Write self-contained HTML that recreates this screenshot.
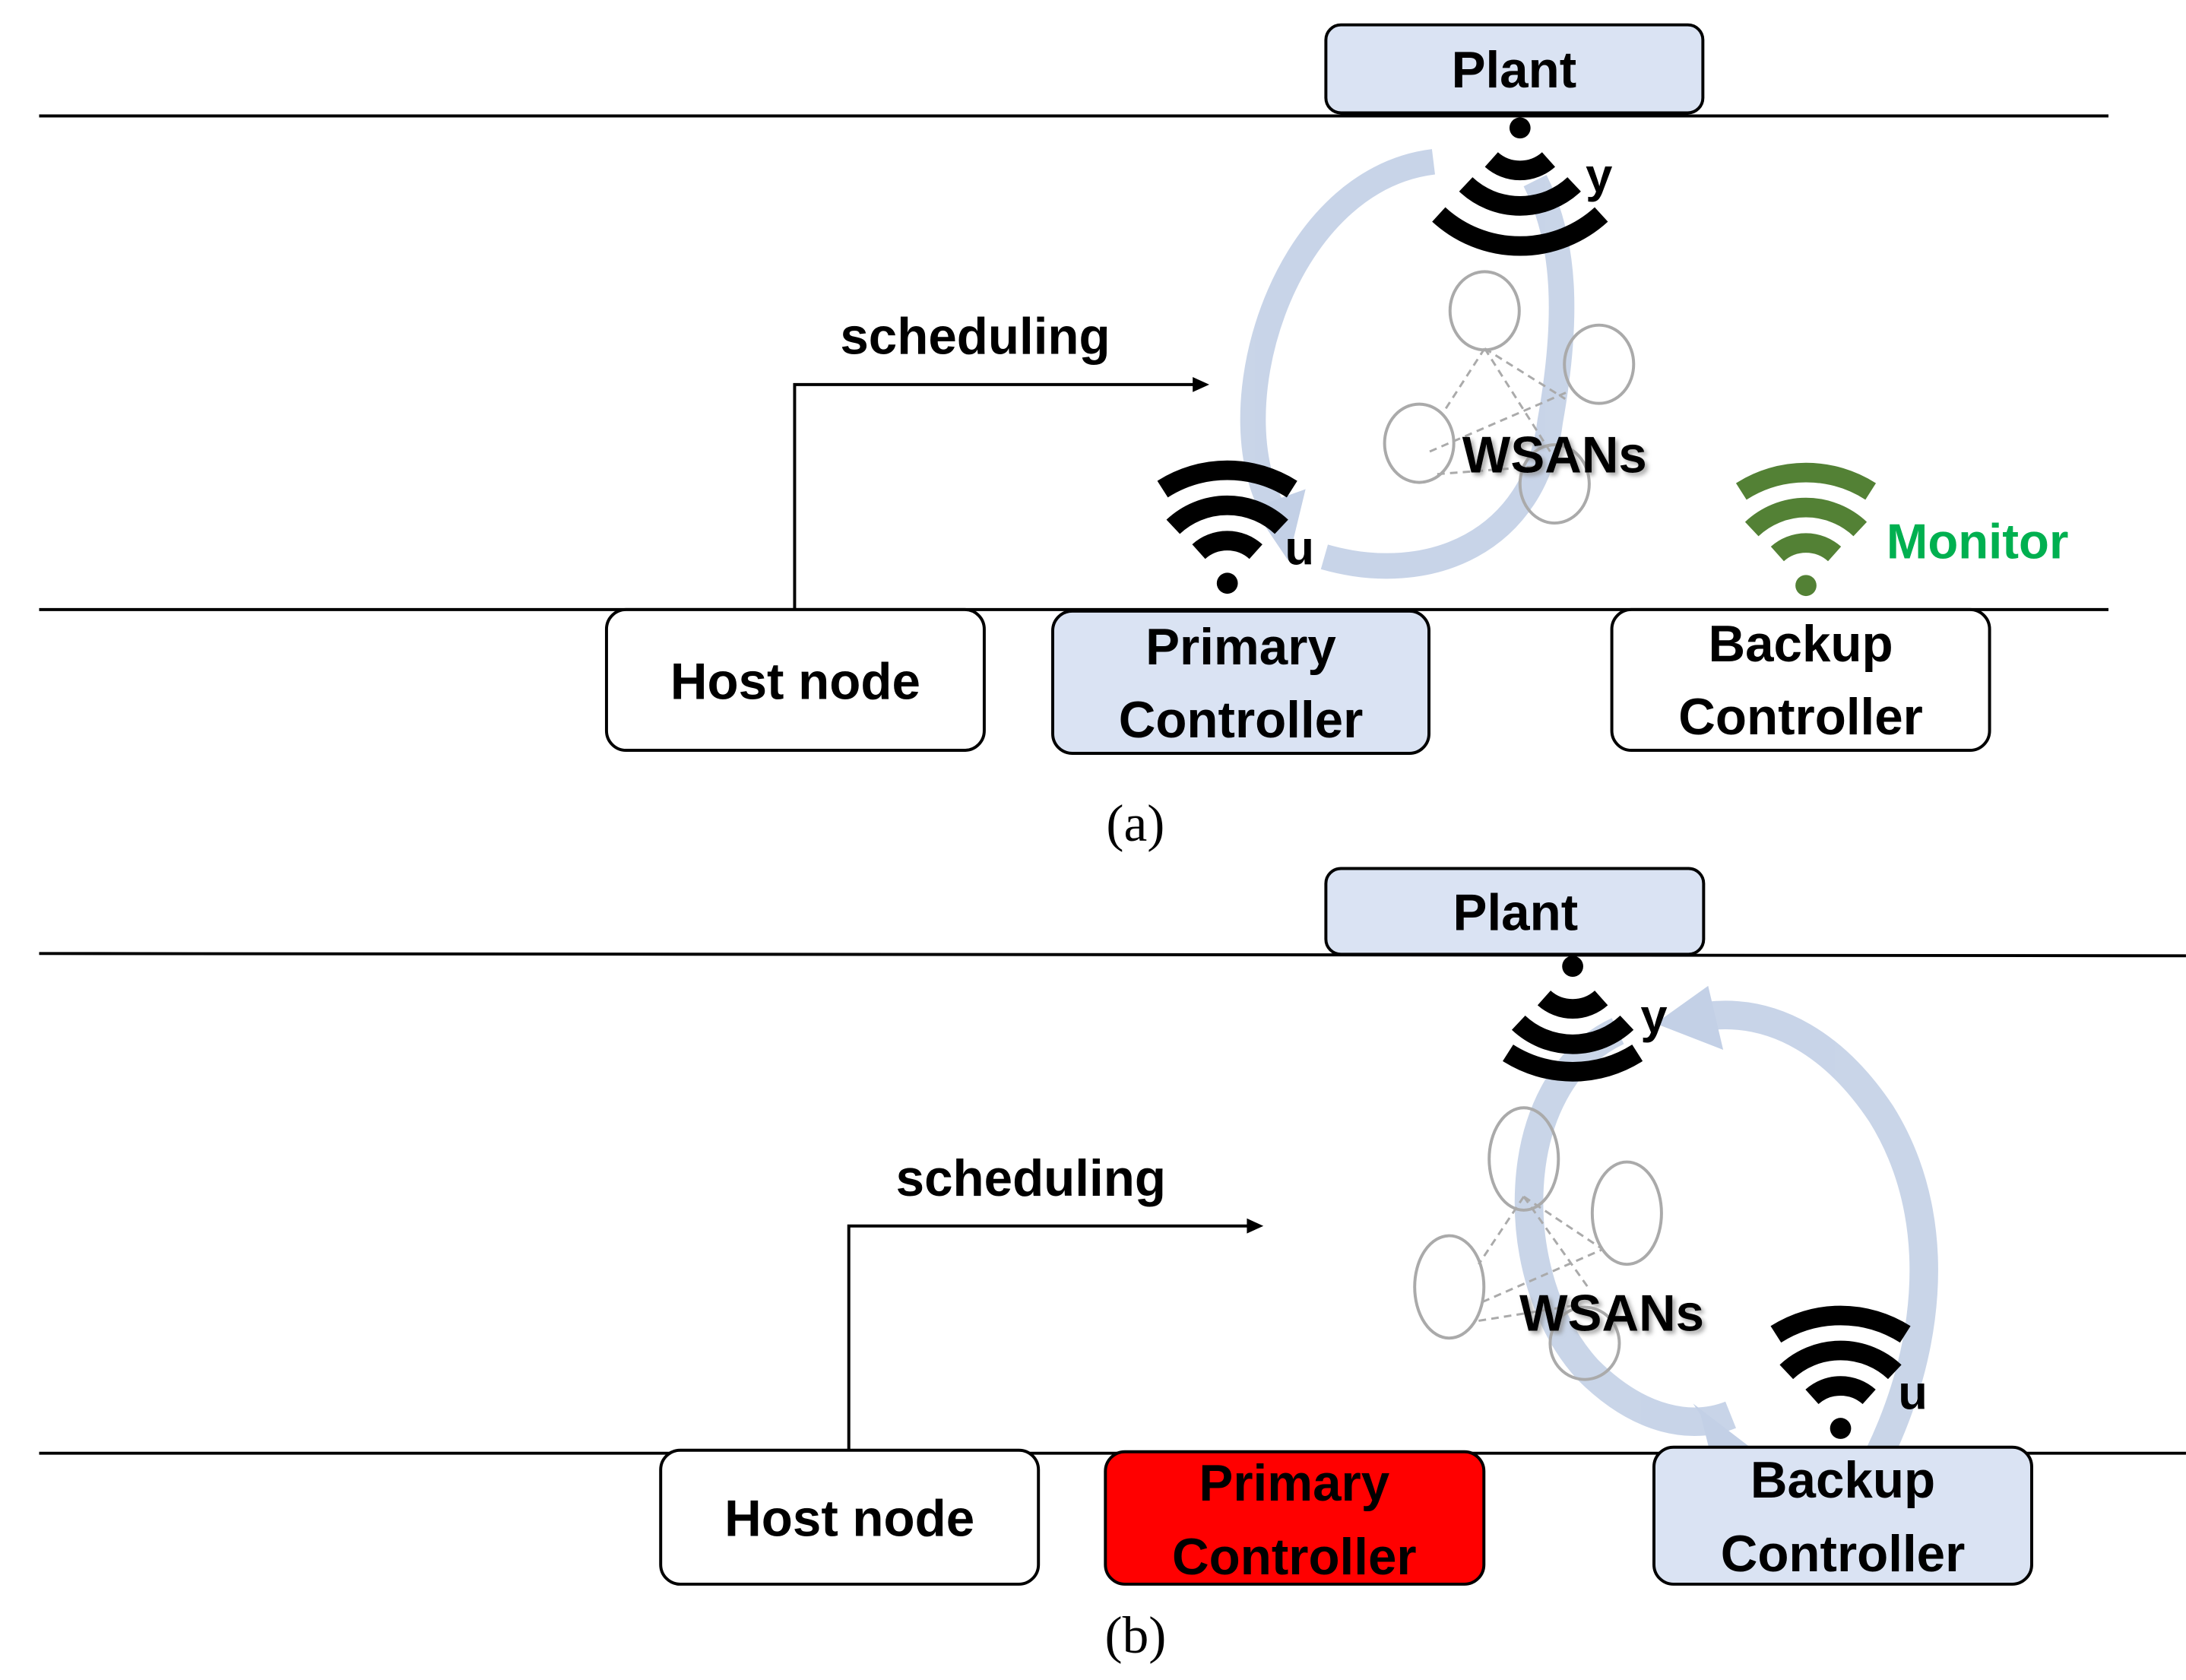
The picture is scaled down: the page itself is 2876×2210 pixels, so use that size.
<!DOCTYPE html>
<html><head><style>body{margin:0;background:#fff}svg{display:block}</style></head><body>
<svg width="2876" height="2210" viewBox="0 0 2876 2210" xmlns="http://www.w3.org/2000/svg">
<defs>
<filter id="sh"><feDropShadow dx="4" dy="4" stdDeviation="3" flood-color="#888" flood-opacity="0.7"/></filter>
</defs>
<g transform="scale(0.99)">
<g font-family="'Liberation Sans',sans-serif" font-weight="bold">
<line x1="52" y1="154" x2="2802" y2="154" stroke="#000" stroke-width="4"/>
<line x1="52" y1="810" x2="2802" y2="810" stroke="#000" stroke-width="4"/>
<line x1="52" y1="1267" x2="2905" y2="1270" stroke="#000" stroke-width="4"/>
<line x1="52" y1="1931" x2="2905" y2="1931" stroke="#000" stroke-width="4"/>

<g fill="none" stroke="#c3d0e6" stroke-width="34" opacity="0.9">
<path d="M1905,215 C1700,240 1610,560 1700,690"/>
<path d="M1760,740 C1900,780 2040,720 2060,560 C2085,420 2080,320 2040,240"/>
</g>
<polygon points="1665,675 1735,650 1712,745" fill="#c3d0e6"/>
<g fill="none" stroke="#c3d0e6" stroke-width="38" opacity="0.9">
<path d="M2150,1370 C2000,1440 2000,1700 2110,1820 C2180,1890 2250,1900 2300,1880"/>
<path d="M2440,2030 C2560,1860 2600,1640 2500,1480 C2440,1390 2360,1340 2270,1350"/>
</g>
<polygon points="2250,1865 2335,1930 2290,2000 2260,1880" fill="#c3d0e6"/>
<polygon points="2270,1310 2200,1360 2290,1395" fill="#c3d0e6"/>

<g stroke="#aaa" stroke-width="3" stroke-dasharray="10,7" fill="none">
<path d="M1973,463 L1920,545 M1973,463 L2080,530 M1973,463 L2060,600 M1900,600 L2085,520 M1910,630 L2040,620"/>
</g>
<g stroke="#aaa" stroke-width="4" fill="none">
<ellipse cx="1973" cy="413" rx="46" ry="52"/><ellipse cx="2125" cy="484" rx="46" ry="52"/>
<ellipse cx="1886" cy="589" rx="46" ry="52"/><ellipse cx="2066" cy="643" rx="46" ry="52"/>
</g>
<text x="2066" y="628" font-size="68" text-anchor="middle" filter="url(#sh)">WSANs</text>
<g stroke="#aaa" stroke-width="3" stroke-dasharray="10,7" fill="none">
<path d="M2025,1590 L1965,1680 M2025,1590 L2130,1660 M2025,1590 L2110,1710 M1970,1730 L2130,1660 M1965,1755 L2090,1735"/>
</g>
<g stroke="#aaa" stroke-width="4" fill="none">
<ellipse cx="2025" cy="1540" rx="46" ry="68"/><ellipse cx="2162" cy="1612" rx="46" ry="68"/>
<ellipse cx="1926" cy="1710" rx="46" ry="68"/><ellipse cx="2106" cy="1785" rx="46" ry="48"/>
</g>
<text x="2142" y="1768" font-size="68" text-anchor="middle" filter="url(#sh)">WSANs</text>

<g fill="none" stroke-width="26">
<g stroke="#000" transform="translate(2020,170)">
<circle r="14" fill="#000" stroke="none"/>
<path d="M-38,42 A57,57 0 0 0 38,42"/><path d="M-72,75 A105,105 0 0 0 72,75"/><path d="M-108,115 A160,160 0 0 0 108,115"/>
</g>
<g stroke="#000" transform="translate(1631,775)">
<circle r="14" fill="#000" stroke="none"/>
<path d="M-38,-42 A57,57 0 0 1 38,-42"/><path d="M-72,-75 A105,105 0 0 1 72,-75"/><path d="M-86,-125 A160,160 0 0 1 86,-125"/>
</g>
<g stroke="#538135" transform="translate(2400,778)">
<circle r="14" fill="#538135" stroke="none"/>
<path d="M-38,-42 A57,57 0 0 1 38,-42"/><path d="M-72,-75 A105,105 0 0 1 72,-75"/><path d="M-86,-125 A160,160 0 0 1 86,-125"/>
</g>
<g stroke="#000" transform="translate(2090,1284)">
<circle r="14" fill="#000" stroke="none"/>
<path d="M-38,42 A57,57 0 0 0 38,42"/><path d="M-72,75 A105,105 0 0 0 72,75"/><path d="M-86,115 A160,160 0 0 0 86,115"/>
</g>
<g stroke="#000" transform="translate(2446,1898)">
<circle r="14" fill="#000" stroke="none"/>
<path d="M-38,-42 A57,57 0 0 1 38,-42"/><path d="M-72,-75 A105,105 0 0 1 72,-75"/><path d="M-86,-125 A160,160 0 0 1 86,-125"/>
</g>
</g>
<g font-size="64">
<text x="2125" y="255" text-anchor="middle">y</text>
<text x="1727" y="750" text-anchor="middle">u</text>
<text x="2198" y="1372" text-anchor="middle">y</text>
<text x="2542" y="1872" text-anchor="middle">u</text>
</g>
<text x="2507" y="742" font-size="66" fill="#00b050">Monitor</text>

<g stroke="#000" stroke-width="4" fill="none">
<path d="M1056,810 L1056,511 L1590,511"/>
<path d="M1128,1931 L1128,1629 L1662,1629"/>
</g>
<polygon points="1607,511 1585,501 1585,521" fill="#000"/>
<polygon points="1679,1629 1657,1619 1657,1639" fill="#000"/>
<text x="1296" y="470" font-size="68" text-anchor="middle">scheduling</text>
<text x="1370" y="1589" font-size="68" text-anchor="middle">scheduling</text>

<g stroke="#000" stroke-width="4">
<rect x="1762" y="33" width="501" height="117" rx="20" fill="#dae3f3"/>
<rect x="806" y="810" width="502" height="187" rx="26" fill="#fff"/>
<rect x="1399" y="812" width="500" height="189" rx="26" fill="#dae3f3"/>
<rect x="2142" y="810" width="502" height="187" rx="26" fill="#fff"/>
<rect x="1762" y="1154" width="502" height="114" rx="20" fill="#dae3f3"/>
<rect x="878" y="1927" width="502" height="178" rx="26" fill="#fff"/>
<rect x="1469" y="1929" width="503" height="176" rx="26" fill="#ff0000"/>
<rect x="2198" y="1923" width="502" height="182" rx="26" fill="#dae3f3"/>
</g>
<g font-size="68" text-anchor="middle">
<text x="2012" y="116">Plant</text>
<text x="2014" y="1236">Plant</text>
<text x="1057" y="929">Host node</text>
<text x="1649" y="883">Primary</text><text x="1649" y="980">Controller</text>
<text x="2393" y="879">Backup</text><text x="2393" y="976">Controller</text>
<text x="1129" y="2041">Host node</text>
<text x="1720" y="1994">Primary</text><text x="1720" y="2092">Controller</text>
<text x="2449" y="1990">Backup</text><text x="2449" y="2088">Controller</text>
</g>
</g>
<g font-family="'Liberation Serif',serif" font-size="70" text-anchor="middle">
<text x="1509" y="1117">(a)</text>
<text x="1509" y="2196">(b)</text>
</g>
</g>
</svg>
</body></html>
